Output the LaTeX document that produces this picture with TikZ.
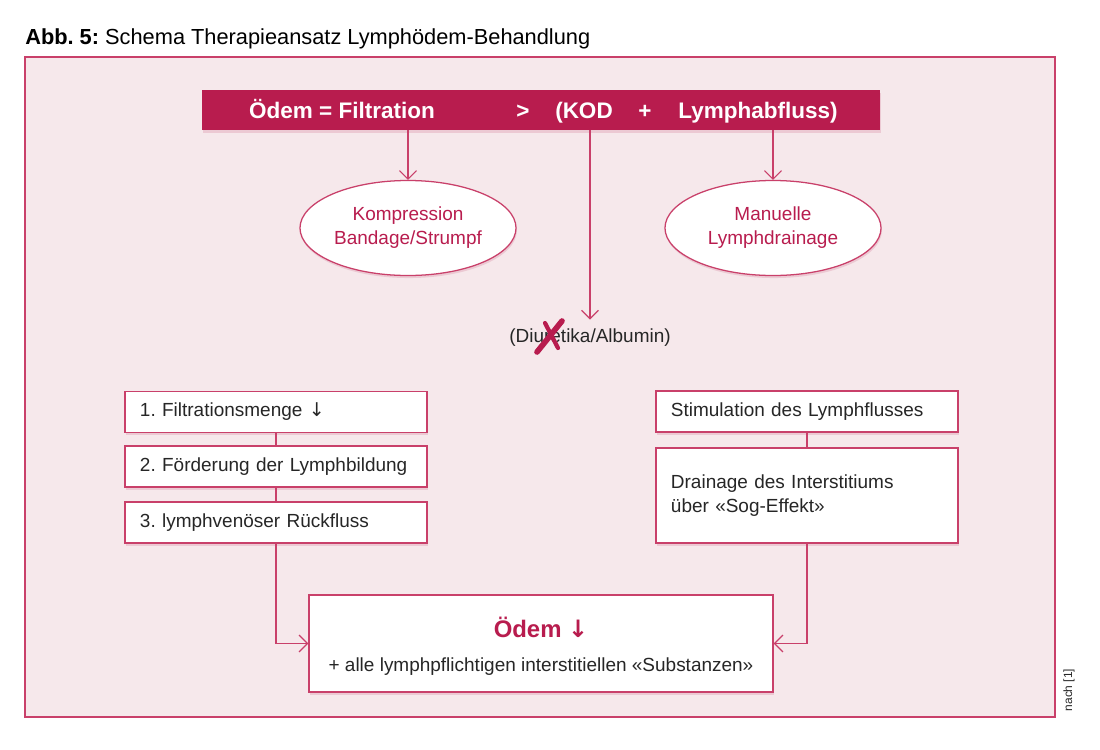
\documentclass[tikz,border=0pt]{standalone}
\usepackage{fontspec}
\setmainfont{Liberation Sans}
\newfontfamily\arrowfont{DejaVu Sans}
\usetikzlibrary{shapes.geometric,arrows.meta,shadows}
\definecolor{crim}{RGB}{184,28,78}
\definecolor{rimcol}{RGB}{201,64,106}
\definecolor{bgpink}{RGB}{246,232,235}
\definecolor{txtgray}{RGB}{38,38,38}
\frenchspacing

\begin{document}
\begin{tikzpicture}[x=0.025cm, y=-0.025cm,
    font=\fontsize{13.5}{17}\selectfont, text=txtgray,
    link/.style={draw=rimcol, line width=0.8pt},
    arr/.style={link, -{Straight Barb[length=6pt,width=12pt]}},
    softshadow/.style={drop shadow={shadow xshift=0.6pt, shadow yshift=-1.8pt, opacity=0.15, fill=crim}},
    stepbox/.style={draw=rimcol, line width=0.9pt, fill=white, softshadow, align=left, text width=6.8cm, inner xsep=0.375cm, inner ysep=0pt, minimum height=1.025cm},
    oval/.style={ellipse, draw=rimcol, line width=0.9pt, fill=white, softshadow, text=crim, align=center, minimum width=5.4cm, minimum height=2.375cm, inner sep=0pt},
    bartext/.style={text=white, font=\bfseries\fontsize{16}{18}\selectfont, anchor=base}]
    \useasboundingbox (0,0) rectangle (1100,750);
    \node (title) [anchor=base west, inner sep=0pt, text=black, font=\fontsize{15.5}{18}\selectfont] at (25,44) {\textbf{Abb. 5:} Schema Therapieansatz Lymphödem-Behandlung};
    \draw [draw=rimcol, fill=bgpink, line width=0.8pt] (25,57) rectangle (1055,717);

    \node (bar) [fill=crim, minimum width=16.95cm, minimum height=1cm, softshadow] at (541,110) {};
    \node (filt) [bartext] at (342,118) {Ödem = Filtration};
    \node (gt) [bartext] at (523,118) {>};
    \node (kod) [bartext] at (584,118) {(KOD};
    \node (plus) [bartext] at (645,118) {+};
    \node (lymph) [bartext] at (758,118) {Lymphabfluss)};

    \node (komp) [oval] at (408,228) {Kompression\\Bandage/Strumpf};
    \node (mld) [oval] at (773,228) {Manuelle\\Lymphdrainage};
    \node (diur) [anchor=base, inner ysep=6pt] at (590,342) {(Diuretika/Albumin)};
    \draw [arr] (bar.south -| komp.north) -- (komp.north);
    \draw [arr] (bar.south -| mld.north) -- (mld.north);
    \draw [arr] (bar.south -| diur.north) -- (diur.north);
    \draw [crim, line width=4pt, line cap=round] (537,352) -- (562,321);
    \draw [crim, line width=3pt, line cap=round] (545,323) -- (558,348);

    \node (b1) [stepbox] at (276,412) {1. Filtrationsmenge {\arrowfont ↓}};
    \node (b2) [stepbox] at (276,466.5) {2. Förderung der Lymphbildung};
    \node (b3) [stepbox] at (276,522.5) {3. lymphvenöser Rückfluss};
    \node (s1) [stepbox] at (807,411.5) {Stimulation des Lymphflusses};
    \node (s2) [stepbox, minimum height=2.375cm] at (807,495.5) {Drainage des Interstitiums\\über «Sog-Effekt»};
    \draw [link] (b1) -- (b2);
    \draw [link] (b2) -- (b3);
    \draw [link] (s1) -- (s2);

    \node (odem) [draw=rimcol, line width=0.9pt, fill=white, softshadow, minimum width=11.6cm, minimum height=2.425cm] at (541,643.5) {};
    \node (odemt) [text=crim, font=\bfseries\fontsize{17}{20}\selectfont] at (541,627) {Ödem {\arrowfont ↓}};
    \node (alle) at (541,667) {+ alle lymphpflichtigen interstitiellen «Substanzen»};
    \draw [arr] (b3.south) |- (odem.west);
    \draw [arr] (s2.south) |- (odem.east);

    \node (src) [rotate=90, font=\fontsize{8.5}{10}\selectfont] at (1069,690) {nach [1]};
\end{tikzpicture}
\end{document}
